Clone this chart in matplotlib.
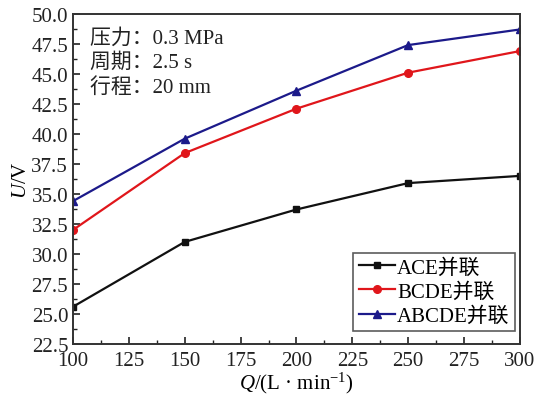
import matplotlib
matplotlib.use("Agg")
import matplotlib.pyplot as plt
from matplotlib.ticker import MultipleLocator, FormatStrFormatter

plt.rcParams['font.family'] = ['Liberation Serif', 'Noto Sans CJK SC']
plt.rcParams['mathtext.fontset'] = 'custom'
plt.rcParams['mathtext.rm'] = 'Liberation Serif'
plt.rcParams['mathtext.it'] = 'Liberation Serif:italic'

flow = [100, 150, 200, 250, 300]
ace = [25.6, 31.0, 33.7, 35.9, 36.5]
bcde = [32.0, 38.4, 42.1, 45.1, 46.9]
abcde = [34.4, 39.6, 43.6, 47.4, 48.7]
labels = ['ACE并联', 'BCDE并联', 'ABCDE并联']
info = ['压力：0.3 MPa', '周期：2.5 s', '行程：20 mm']

fig = plt.figure(figsize=(5.37, 4.02), dpi=100)
ax = fig.add_axes([0.136, 0.142, 0.832, 0.821])

ax.plot(flow, ace, color='#111111', marker='s', ms=5, lw=1.6, label=labels[0])
ax.plot(flow, bcde, color='#e0161b', marker='o', ms=5.5, lw=1.6, label=labels[1])
ax.plot(flow, abcde, color='#1c1a8a', marker='^', ms=5.5, lw=1.6, label=labels[2])

ax.set_xlim(100, 300)
ax.set_ylim(22.5, 50.0)
ax.xaxis.set_major_locator(MultipleLocator(25))
ax.xaxis.set_minor_locator(MultipleLocator(12.5))
ax.yaxis.set_major_locator(MultipleLocator(2.5))
ax.yaxis.set_minor_locator(MultipleLocator(1.25))
ax.yaxis.set_major_formatter(FormatStrFormatter('%.1f'))
ax.tick_params(which='both', direction='in', top=False, right=False, labelsize=15, colors='#222222')
ax.tick_params(which='major', length=5, width=1.2)
ax.tick_params(which='minor', length=3, width=1.0)
ax.tick_params(axis='x', pad=5)
for s in ax.spines.values():
    s.set_linewidth(1.4)
    s.set_color('#333333')

ax.set_xlabel(r'$Q$/(L · min$^{-1}$)', fontsize=15, labelpad=0)
ax.set_ylabel(r'$U$/V', fontsize=15, labelpad=0)

ax.text(0.037, 0.958, '\n'.join(info), transform=ax.transAxes, fontsize=15,
        va='top', ha='left', linespacing=1.32, color='#222222')

leg = ax.legend(loc='lower right', bbox_to_anchor=(0.989, 0.039), fontsize=15,
                frameon=True, fancybox=False, edgecolor='#333333',
                handlelength=1.75, handletextpad=0.1, borderpad=0.25,
                labelspacing=0.22, borderaxespad=0.0)
leg.get_frame().set_linewidth(1.2)

fig.savefig('out.png', dpi=100)
